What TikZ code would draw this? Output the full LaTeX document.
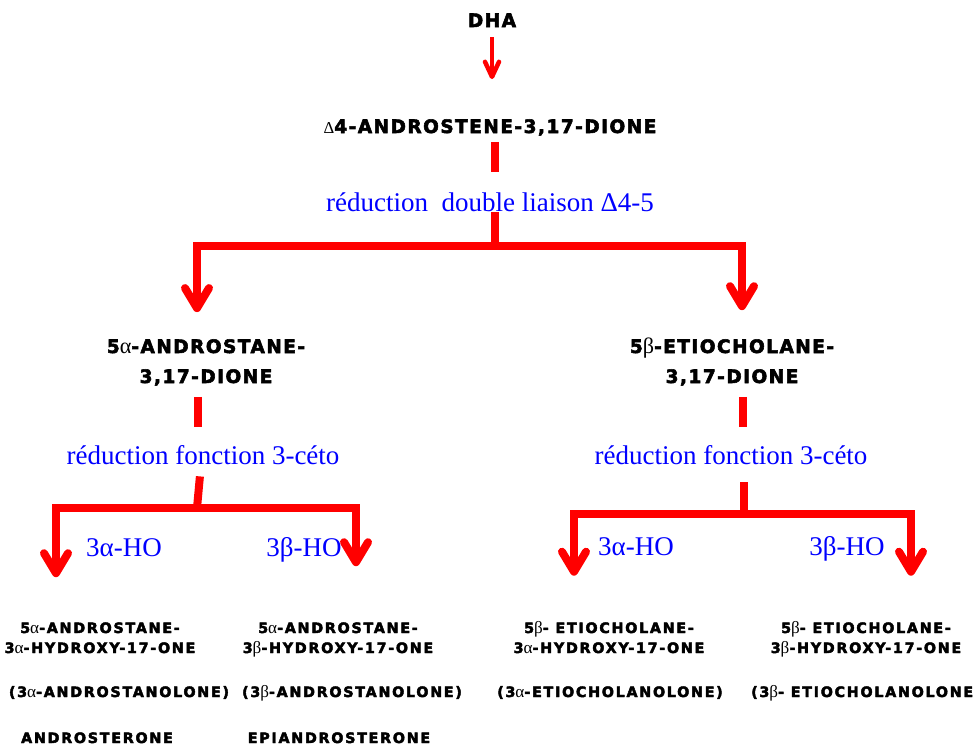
\documentclass[tikz,border=0pt]{standalone}
\usepackage{fontspec}
\setmainfont{Liberation Serif}
\newfontfamily\heavyfont[BoldFeatures={FakeBold=3}]{DejaVu Sans}
\newfontfamily\gkfont[Scale=1.2]{Liberation Serif}
\newfontfamily\deltafont[Scale=0.9]{Liberation Serif}
\newcommand{\gk}[1]{{\gkfont\mdseries #1}}
\usetikzlibrary{arrows.meta}

\begin{document}
\begin{tikzpicture}[x=1pt, y=-1pt,
    big/.style={font=\heavyfont\bfseries\addfontfeatures{LetterSpace=8}\fontsize{18.5}{30}\selectfont, align=center, inner sep=0pt, anchor=base},
    small/.style={font=\heavyfont\bfseries\addfontfeatures{LetterSpace=12}\fontsize{14.3}{20}\selectfont, align=center, inner sep=0pt, anchor=base},
    lbl/.style={text=blue, font=\fontsize{27}{30}\selectfont, inner sep=0pt, anchor=base},
    stem/.style={draw=red, line width=8pt},
    fork/.style={stem, -{Straight Barb[length=20pt, width=24pt, round]}}]
  \useasboundingbox (0,0) rectangle (978,755);

  % precursor and first reduction
  \node[big] (dha) at (492,27) {DHA};
  \node[big] (adien) at (490,133) {{\deltafont\mdseries Δ}4-ANDROSTENE-3,17-DIONE};
  \node[lbl] (red1) at (490,211) {réduction\ \ double liaison Δ4-5};
  \coordinate (j1) at (495,246);

  % 5alpha / 5beta diones (base = last line)
  \node[big] (adione) at (206,383) {5\gk{α}-ANDROSTANE-\\3,17-DIONE};
  \node[big] (bdione) at (732,383) {5\gk{β}-ETIOCHOLANE-\\3,17-DIONE};

  \node[lbl] (red2) at (203,464) {réduction fonction 3-céto};
  \node[lbl] (red3) at (731,464) {réduction fonction 3-céto};
  \coordinate (j2) at (197,508);
  \coordinate (j3) at (744,514);

  \node[lbl] (ha1) at (124,556) {3α-HO};
  \node[lbl] (hb1) at (304,556) {3β-HO};
  \node[lbl] (ha2) at (636,555) {3α-HO};
  \node[lbl] (hb2) at (847,555) {3β-HO};

  % end products
  \node[small] (andro) at (100,653) {5\gk{α}-ANDROSTANE-\\3\gk{α}-HYDROXY-17-ONE};
  \node[small] (epi) at (338,653) {5\gk{α}-ANDROSTANE-\\3\gk{β}-HYDROXY-17-ONE};
  \node[small] (etio) at (609,653) {5\gk{β}- ETIOCHOLANE-\\3\gk{α}-HYDROXY-17-ONE};
  \node[small] (epietio) at (866,653) {5\gk{β}- ETIOCHOLANE-\\3\gk{β}-HYDROXY-17-ONE};
  \node[small] (andro-tn) at (119,697) {(3\gk{α}-ANDROSTANOLONE)};
  \node[small] (epi-tn) at (352,697) {(3\gk{β}-ANDROSTANOLONE)};
  \node[small] (etio-tn) at (610,697) {(3\gk{α}-ETIOCHOLANOLONE)};
  \node[small, anchor=base west] (epietio-tn) at (751,697) {(3\gk{β}- ETIOCHOLANOLONE};
  \node[small] (andro-cn) at (97,743) {ANDROSTERONE};
  \node[small] (epi-cn) at (339,743) {EPIANDROSTERONE};

  % arrows
  \draw[red, line width=4.5pt, -{Straight Barb[length=15pt, width=14pt, round]},
    shorten <=10pt, shorten >=40pt] (dha.south) -- (dha |- adien.north);

  \draw[stem, shorten <=6pt, shorten >=20pt] ([xshift=5pt]adien.south) -- ([xshift=5pt]red1.north);
  \draw[stem, shorten <=1pt] ([xshift=5pt]red1.south) -- (j1);
  \draw[fork, shorten >=27pt] (j1) -| ([xshift=-9pt]adione.north);
  \draw[fork, shorten >=27pt] (j1) -| ([xshift=10pt]bdione.north);

  \draw[stem, shorten <=11pt, shorten >=18pt] ([xshift=-8pt]adione.south) -- ([xshift=-5pt]red2.north);
  \draw[stem, shorten <=12pt] ([xshift=-2pt]red2.south) -- (j2);
  \draw[fork, shorten >=45pt] (j2) -| ([xshift=-44pt]andro.north);
  \draw[fork, shorten >=56pt] (j2) -| ([xshift=18pt]epi.north);

  \draw[stem, shorten <=11pt, shorten >=18pt] ([xshift=11pt]bdione.south) -- ([xshift=12pt]red3.north);
  \draw[stem, shorten <=18pt] ([xshift=13pt]red3.south) -- (j3);
  \draw[fork, shorten >=45pt] (j3) -| ([xshift=-35pt]etio.north);
  \draw[fork, shorten >=45pt] (j3) -| ([xshift=45pt]epietio.north);
\end{tikzpicture}
\end{document}
